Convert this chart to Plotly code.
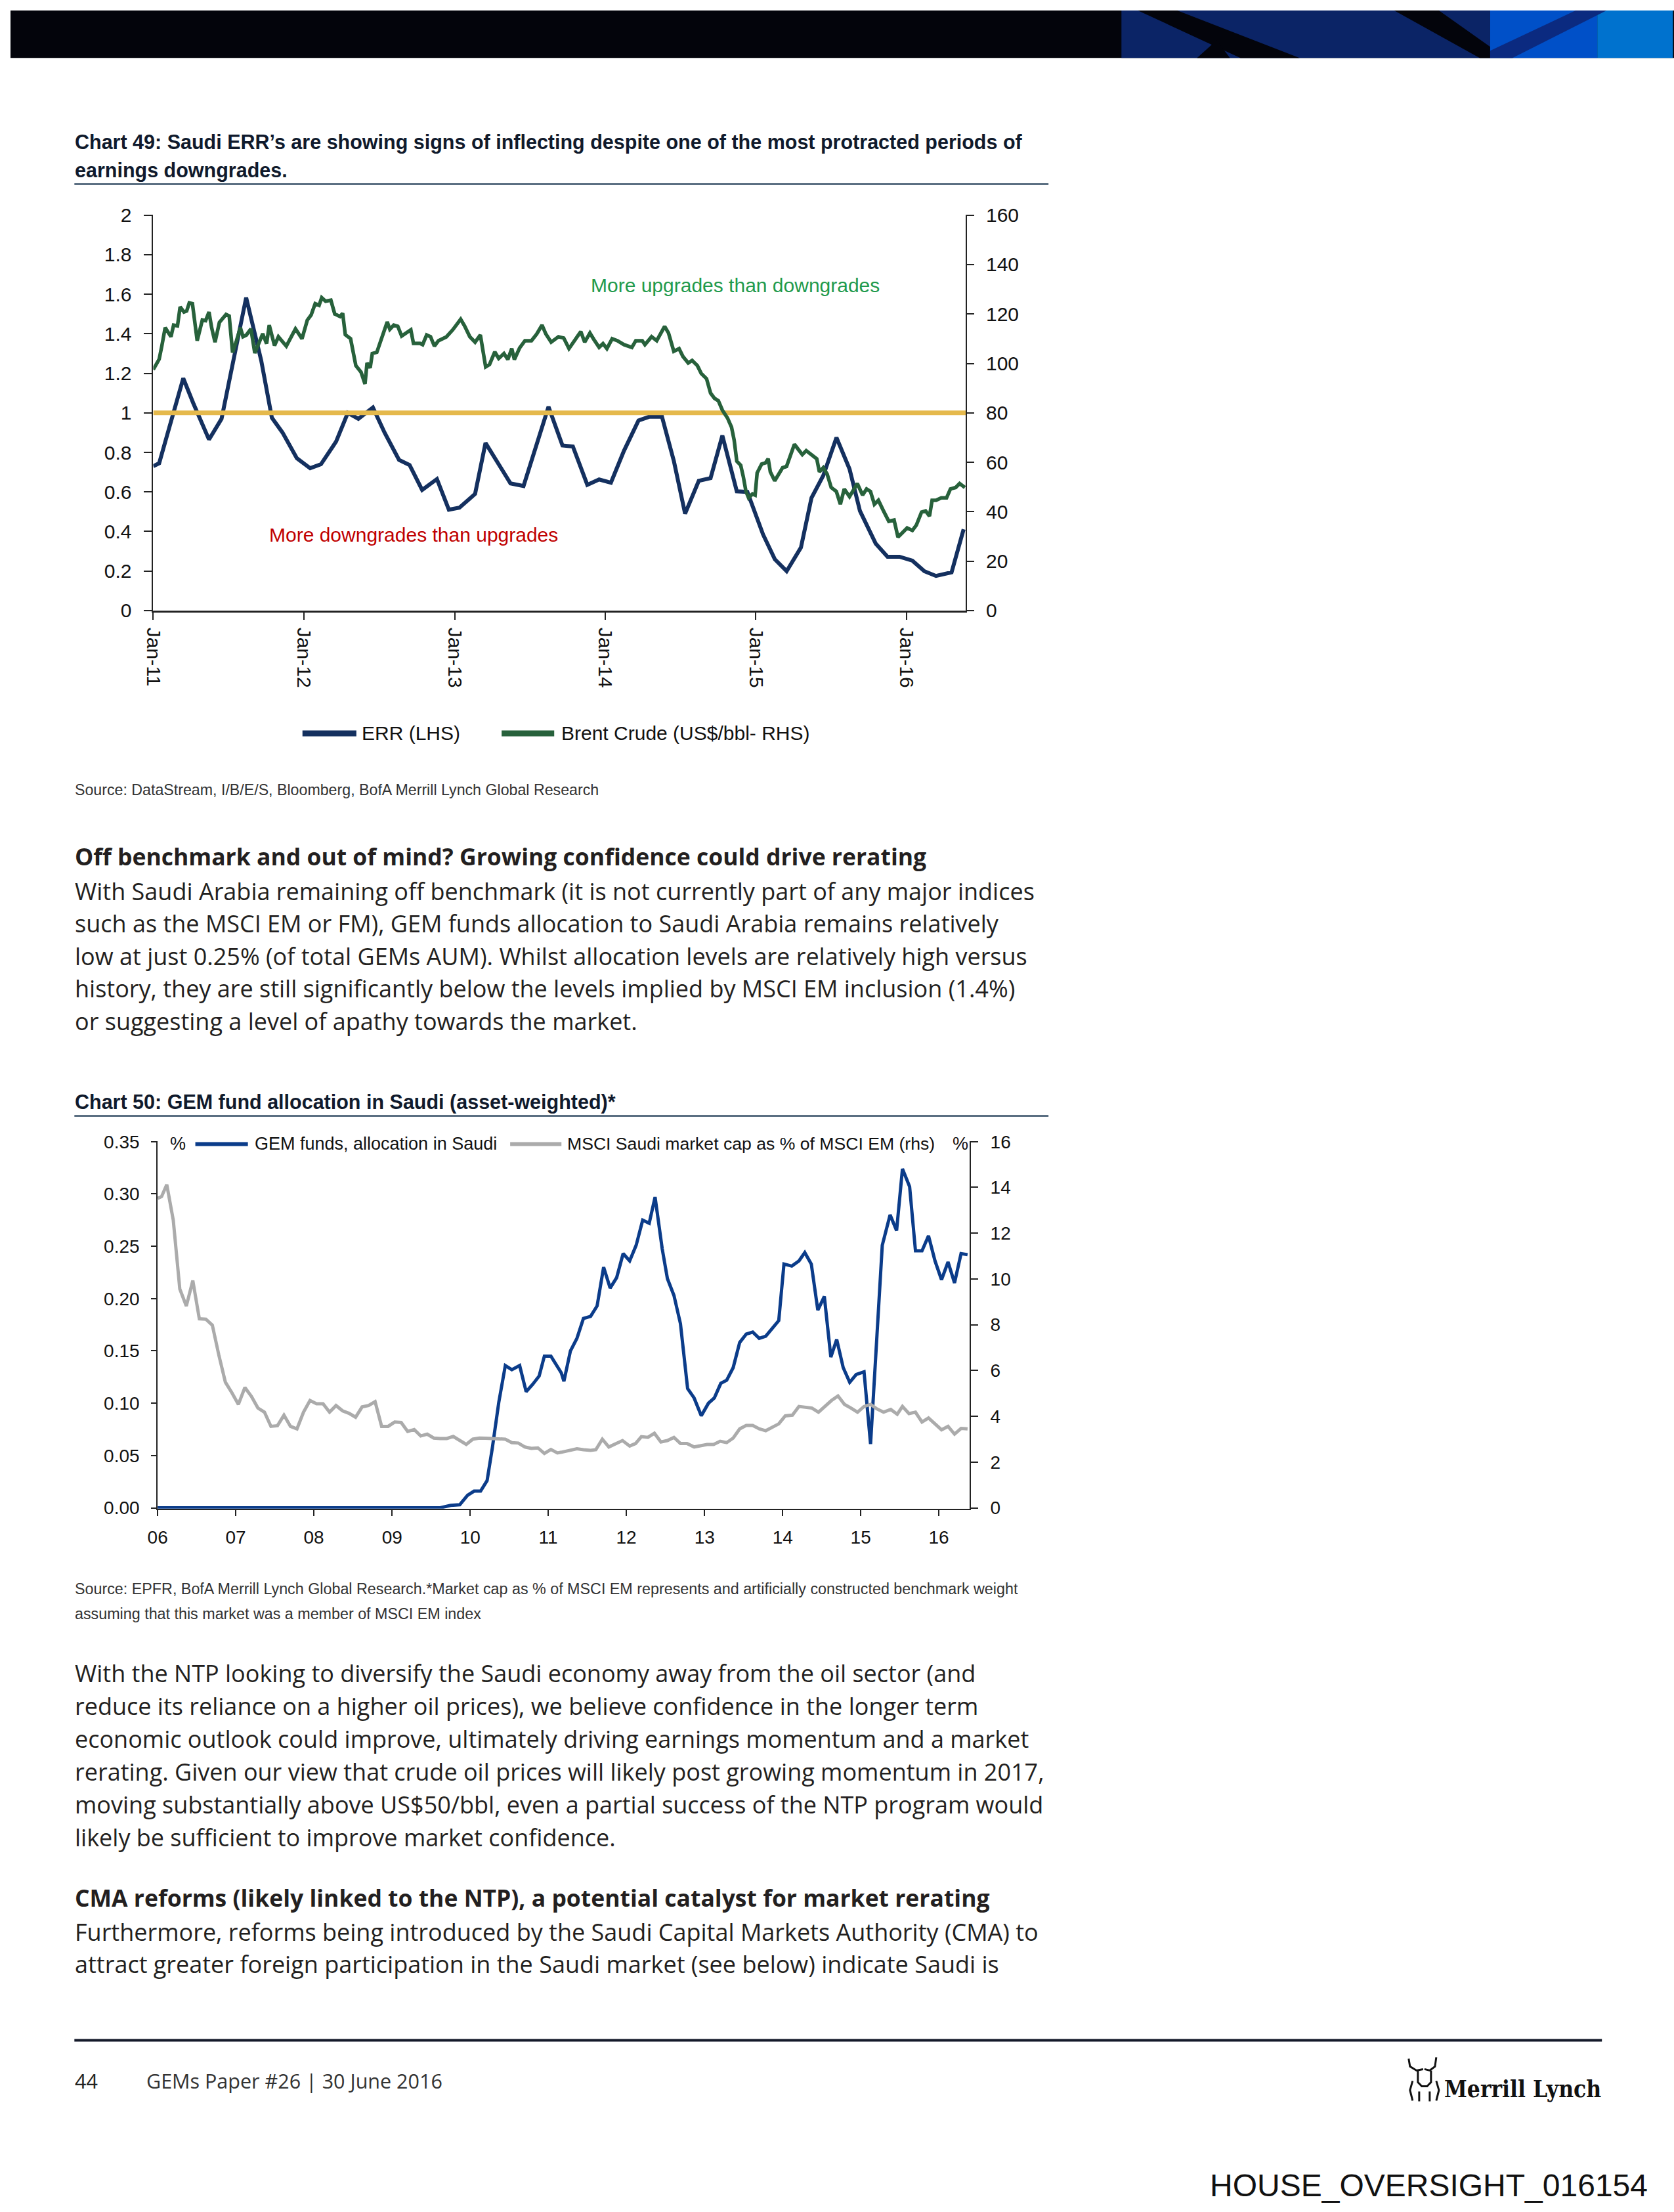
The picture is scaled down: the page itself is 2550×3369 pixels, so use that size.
import plotly.graph_objects as go
import pandas as pd

W, H = 2550, 3369

# ---------------- Chart 49 data ----------------
err_start = "2011-01-01"
err_months = [0.0, 0.47, 2.39, 3.18, 4.44, 5.44, 7.4, 8.6, 9.45, 10.3,
              11.44, 12.5, 13.36, 14.57, 15.5, 16.34, 17.5, 18.43, 19.58, 20.42,
              21.42, 22.6, 23.55, 24.39, 25.64, 26.47, 28.46, 29.5, 31.49, 32.28,
              32.6, 33.43, 34.58, 35.52, 36.46, 37.5, 38.66, 39.5, 40.53, 41.48,
              42.37, 43.46, 44.4, 45.34, 46.49, 47.33, 48.58, 49.52, 50.46, 51.6,
              52.44, 53.38, 54.43, 55.47, 56.3, 57.56, 58.5, 59.45, 60.48, 61.43,
              62.36, 63.6, 64.56]
err_values = [0.73, 0.745, 1.175, 1.05, 0.865, 0.97, 1.583, 1.265, 0.975, 0.90,
              0.77, 0.72, 0.74, 0.855, 1.0, 0.97, 1.027, 0.90, 0.762, 0.736,
              0.61, 0.665, 0.51, 0.52, 0.59, 0.848, 0.643, 0.63, 1.031, 0.90,
              0.835, 0.83, 0.636, 0.663, 0.647, 0.808, 0.961, 0.98, 0.98, 0.755,
              0.49, 0.656, 0.67, 0.885, 0.603, 0.60, 0.385, 0.259, 0.199, 0.319,
              0.57, 0.683, 0.875, 0.716, 0.504, 0.338, 0.272, 0.272, 0.252, 0.199,
              0.175, 0.193, 0.411]

brent_months = [0, 0.47, 0.68, 0.95, 1.41, 1.62, 1.93, 2.14, 2.45, 2.66,
                2.87, 3.12, 3.50, 3.91, 4.17, 4.44, 4.65, 4.92, 5.27, 5.80,
                6.05, 6.32, 6.63, 6.94, 7.15, 7.42, 7.78, 8.09, 8.72, 9.03,
                9.24, 9.66, 9.97, 10.6, 11.33, 11.85, 12.27, 12.58, 12.9, 13.21,
                13.42, 13.73, 14.15, 14.46, 14.88, 15.09, 15.3, 15.72, 16.14, 16.55,
                16.87, 17.03, 17.28, 17.45, 17.81, 18.22, 18.64, 18.85, 19.16, 19.48,
                19.79, 20.52, 20.73, 21.25, 21.46, 21.78, 22.09, 22.40, 22.72, 23.34,
                23.86, 24.49, 24.80, 25.22, 25.64, 26.06, 26.48, 26.79, 27.21, 27.52,
                27.94, 28.25, 28.56, 28.77, 29.19, 29.61, 30.13, 30.55, 30.97, 31.28,
                31.70, 32.28, 32.70, 33.12, 33.53, 34.06, 34.37, 34.79, 35.10, 35.52,
                35.83, 36.14, 36.56, 36.98, 37.50, 38.13, 38.44, 38.96, 39.17, 39.70,
                40.11, 40.43, 40.74, 41.05, 41.47, 41.89, 42.20, 42.62, 42.93, 43.35,
                43.66, 44.08, 44.40, 44.71, 45.02, 45.34, 45.75, 46.07, 46.28, 46.49,
                46.80, 47.01, 47.22, 47.43, 47.74, 47.95, 48.11, 48.47, 48.78, 48.99,
                49.16, 49.51, 49.83, 50.14, 50.45, 50.77, 51.08, 51.39, 51.71, 52.02,
                52.44, 52.86, 53.07, 53.38, 53.69, 54.01, 54.42, 54.74, 55.05, 55.47,
                56.09, 56.51, 56.83, 57.14, 57.45, 57.77, 58.18, 58.60, 59.02, 59.33,
                59.65, 60.06, 60.48, 60.79, 61.21, 61.53, 61.84, 62.05, 62.36, 62.78,
                63.20, 63.51, 63.93, 64.24, 64.66]
brent_values = [97.5, 101.7, 107, 114.5, 110.8, 115.5, 115.2, 122.9, 120.8, 121.2,
                124.5, 124.2, 109.2, 117.6, 117.3, 120.8, 114.5, 108.6, 116.6, 119.8,
                119.2, 104.4, 109.2, 114.5, 110.8, 111.5, 114, 104.2, 112, 108,
                115.5, 107.2, 110.8, 107, 114, 110, 117.5, 119.6, 124.2, 123.5,
                126.6, 125.2, 125.6, 120, 119, 120.3, 111.6, 110, 99.1, 96.5,
                91.7, 100.2, 98.2, 104, 104.5, 111.1, 116.8, 113.8, 115.5, 115,
                111.1, 113.6, 108.1, 108.1, 107.6, 111.5, 110.8, 107, 109.2, 110.7,
                113.6, 117.9, 115.2, 110.8, 108.6, 111.5, 98.6, 99.6, 104.7, 102,
                104, 101.6, 106, 101.6, 106.3, 109.2, 109.2, 111.9, 115.5, 111.9,
                108.6, 110.8, 110.3, 106, 109.2, 112.9, 108.6, 112.3, 109.7, 106.5,
                108, 106, 110, 109.2, 107.6, 106.5, 109.2, 109.2, 107.6, 110.8,
                109.2, 111.9, 115, 112.3, 104.9, 106, 102.8, 100.2, 101.2, 99.1,
                95.9, 93.8, 88, 85.9, 84.9, 81.1, 77.9, 74.2, 68.9, 60.4,
                58.8, 54.1, 48.2, 45.6, 47.2, 46.7, 55.7, 59.3, 59.8, 61.4,
                56.1, 52.5, 55.2, 57.8, 58.3, 62.6, 67.3, 65.2, 63.1, 64.7,
                63.1, 61.4, 56.1, 57.8, 55.2, 49.8, 48.2, 43, 49.2, 46.1,
                51.4, 46.7, 49.2, 48.2, 43, 44.6, 40.3, 36.1, 36.6, 29.7,
                31.3, 33.4, 32.4, 34.5, 39.8, 40.3, 38.2, 44.6, 44.6, 45.6,
                45.6, 49.2, 49.8, 51.4, 49.8]

parity_level = 1.0
c49_end = "2016-05-24"
c49_tickvals = ["2011-01-01", "2012-01-01", "2013-01-01", "2014-01-01", "2015-01-01", "2016-01-01"]
c49_ticktext = ["Jan-11", "Jan-12", "Jan-13", "Jan-14", "Jan-15", "Jan-16"]

# ---------------- Chart 50 data ----------------
c50_start = "2006-01-01"
gem_months = [0, 43.4, 45.0, 46.4, 47.6, 48.6, 49.6, 50.6, 51.4, 52.4,
              53.4, 54.4, 55.6, 56.6, 57.6, 58.6, 59.4, 60.4, 62.0, 62.4,
              63.4, 64.4, 65.4, 66.5, 67.5, 68.5, 69.5, 70.5, 71.5, 72.5,
              73.5, 74.5, 75.5, 76.4, 77.5, 78.3, 79.3, 80.3, 81.4, 82.4,
              83.5, 84.6, 85.5, 86.5, 87.4, 88.4, 89.4, 90.4, 91.4, 92.4,
              93.4, 94.4, 95.4, 96.2, 97.4, 98.5, 99.4, 100.4, 101.4, 102.4,
              103.4, 104.3, 105.3, 106.3, 107.3, 108.5, 109.5, 111.3, 112.5, 113.5,
              114.4, 115.5, 116.4, 117.4, 118.4, 119.4, 120.4, 121.4, 122.4, 123.4,
              124.4]
gem_values = [0, 0, 0.0024, 0.003, 0.012, 0.016, 0.016, 0.026, 0.057, 0.101,
              0.136, 0.132, 0.136, 0.111, 0.118, 0.126, 0.145, 0.145, 0.129, 0.121,
              0.150, 0.162, 0.181, 0.183, 0.193, 0.230, 0.210, 0.220, 0.243, 0.236,
              0.251, 0.275, 0.272, 0.297, 0.2475, 0.219, 0.203, 0.176, 0.114, 0.105,
              0.088, 0.100, 0.105, 0.119, 0.122, 0.134, 0.158, 0.166, 0.168, 0.162,
              0.164, 0.172, 0.179, 0.233, 0.231, 0.236, 0.244, 0.233, 0.189, 0.202,
              0.144, 0.161, 0.134, 0.120, 0.1275, 0.130, 0.061, 0.251, 0.280, 0.265,
              0.324, 0.307, 0.2456, 0.2456, 0.260, 0.236, 0.218, 0.235, 0.215, 0.243,
              0.242]

msci_months = [0, 0.6, 1.4, 2.4, 3.4, 4.4, 5.4, 6.4, 7.4, 8.4,
               9.4, 10.4, 11.4, 12.4, 13.4, 14.4, 15.4, 16.4, 17.4, 18.4,
               19.4, 20.4, 21.4, 22.4, 23.4, 24.4, 25.4, 26.4, 27.4, 28.4,
               29.4, 30.4, 31.4, 32.4, 33.4, 34.4, 35.4, 36.4, 37.4, 38.4,
               39.4, 40.4, 41.4, 42.4, 43.4, 44.4, 45.4, 46.4, 47.4, 48.4,
               49.4, 50.4, 51.4, 52.4, 53.4, 54.4, 55.4, 56.4, 57.4, 58.4,
               59.4, 60.4, 61.4, 62.0, 63.2, 64.4, 65.4, 66.5, 67.3, 68.3,
               69.3, 70.3, 71.4, 72.5, 73.4, 74.3, 75.3, 76.3, 77.3, 78.3,
               79.3, 80.3, 81.3, 82.4, 83.4, 84.4, 85.4, 86.4, 87.4, 88.4,
               89.4, 90.4, 91.4, 92.4, 93.4, 94.4, 95.4, 96.4, 97.5, 98.5,
               99.5, 100.5, 101.5, 102.5, 103.5, 104.5, 105.5, 106.5, 107.5, 108.5,
               109.5, 110.5, 111.5, 112.6, 113.6, 114.4, 115.4, 116.4, 117.4, 118.4,
               119.4, 120.4, 121.4, 122.4, 123.4, 124.4]
msci_values = [13.52, 13.6, 14.12, 12.56, 9.56, 8.82, 9.93, 8.26, 8.24, 7.98,
               6.67, 5.49, 5.03, 4.52, 5.26, 4.87, 4.36, 4.18, 3.56, 3.59,
               4.05, 3.56, 3.45, 4.18, 4.69, 4.55, 4.55, 4.18, 4.47, 4.24,
               4.13, 3.96, 4.41, 4.47, 4.64, 3.56, 3.56, 3.75, 3.73, 3.34,
               3.42, 3.14, 3.22, 3.05, 3.03, 3.03, 3.12, 2.94, 2.77, 3.0,
               3.05, 3.04, 3.03, 3.03, 3.0, 2.85, 2.83, 2.66, 2.6, 2.62,
               2.38, 2.55, 2.4, 2.43, 2.49, 2.58, 2.54, 2.51, 2.54, 3.0,
               2.66, 2.81, 2.94, 2.70, 2.81, 3.11, 3.08, 3.26, 2.88, 2.94,
               3.08, 2.81, 2.81, 2.66, 2.72, 2.77, 2.77, 2.91, 2.85, 3.05,
               3.45, 3.60, 3.60, 3.45, 3.37, 3.53, 3.67, 4.02, 4.05, 4.43,
               4.41, 4.36, 4.18, 4.43, 4.69, 4.89, 4.52, 4.36, 4.18, 4.43,
               4.52, 4.32, 4.18, 4.30, 4.09, 4.43, 4.12, 4.18, 3.75, 3.93,
               3.67, 3.41, 3.56, 3.22, 3.47, 3.45]

c50_end = "2016-05-24"
c50_tickvals = ["2006-01-01", "2007-01-01", "2008-01-01", "2009-01-01", "2010-01-01", "2011-01-01",
                "2012-01-01", "2013-01-01", "2014-01-01", "2015-01-01", "2016-01-01"]
c50_ticktext = ["06", "07", "08", "09", "10", "11", "12", "13", "14", "15", "16"]

assert len(err_months) == len(err_values)
assert len(brent_months) == len(brent_values)
assert len(gem_months) == len(gem_values)
assert len(msci_months) == len(msci_values)


def to_dates(start, months):
    s = pd.Timestamp(start)
    return [s + pd.Timedelta(days=m * 30.4375) for m in months]


# page-pixel -> paper coordinates (with a small correction for the capture framing)
OX, OY, SX, SY = 16.8, 16.8, 0.9925, 0.9898


def px(x):
    return ((x - OX) / SX) / W


def py(y):
    return 1 - ((y - OY) / SY) / H


NAVY = "#14305f"
GREEN = "#27613b"
GOLD = "#e5b94c"
BLUE50 = "#0b3c8a"
GREY50 = "#ababab"
TICKF = "Liberation Sans, Arial, sans-serif"
NARROW = "Liberation Sans Narrow, Arial Narrow, Liberation Sans, sans-serif"
BODY = "Open Sans, Noto Sans, sans-serif"

fig = go.Figure()

# Chart 49 traces
err_x = to_dates(err_start, err_months)
fig.add_trace(go.Scatter(x=err_x, y=err_values, mode="lines", line=dict(color=NAVY, width=6),
                         xaxis="x", yaxis="y", showlegend=False))
fig.add_trace(go.Scatter(x=[err_start, c49_end], y=[parity_level, parity_level], mode="lines",
                         line=dict(color=GOLD, width=7), xaxis="x", yaxis="y", showlegend=False))
fig.add_trace(go.Scatter(x=to_dates(err_start, brent_months), y=brent_values, mode="lines",
                         line=dict(color=GREEN, width=5.5), xaxis="x", yaxis="y2", showlegend=False))

# Chart 50 traces
fig.add_trace(go.Scatter(x=to_dates(c50_start, msci_months), y=msci_values, mode="lines",
                         line=dict(color=GREY50, width=5), xaxis="x2", yaxis="y4", showlegend=False))
fig.add_trace(go.Scatter(x=to_dates(c50_start, gem_months), y=gem_values, mode="lines",
                         line=dict(color=BLUE50, width=5), xaxis="x2", yaxis="y3", showlegend=False))

axis_common = dict(showgrid=False, zeroline=False, showline=True, ticks="outside", fixedrange=True)

lo50, hi50 = -0.0008, 0.3502
fig.update_layout(
    width=W, height=H, autosize=False,
    margin=dict(l=0, r=0, t=0, b=0),
    paper_bgcolor="white", plot_bgcolor="white",
    xaxis=dict(domain=[px(234), px(1470)], anchor="y", type="date",
               range=[err_start, c49_end], tickmode="array", tickvals=c49_tickvals, ticktext=c49_ticktext,
               tickangle=90, ticklen=11, tickwidth=2, tickcolor="#222", linecolor="#222", linewidth=3,
               tickfont=dict(family=TICKF, size=30, color="#111"), ticklabelstandoff=6, **axis_common),
    yaxis=dict(domain=[py(930), py(328)], anchor="x", range=[0, 2.001], dtick=0.2, tick0=0,
               ticklen=12, tickwidth=2, tickcolor="#222", linecolor="#222", linewidth=2,
               tickfont=dict(family=TICKF, size=30, color="#111"), ticklabelstandoff=13, **axis_common),
    yaxis2=dict(overlaying="y", side="right", anchor="x", range=[0, 160.08], dtick=20, tick0=0,
                ticklen=11, tickwidth=2, tickcolor="#222", linecolor="#222", linewidth=2,
                tickfont=dict(family=TICKF, size=30, color="#111"), ticklabelstandoff=12, **axis_common),
    xaxis2=dict(domain=[px(240.7), px(1476)], anchor="y3", type="date",
                range=[c50_start, c50_end], tickmode="array", tickvals=c50_tickvals, ticktext=c50_ticktext,
                tickangle=0, ticklen=9, tickwidth=2, tickcolor="#222", linecolor="#222", linewidth=2,
                layer="below traces",
                tickfont=dict(family=TICKF, size=28, color="#111"), ticklabelstandoff=9, **axis_common),
    yaxis3=dict(domain=[py(2297), py(1738)], anchor="x2", range=[lo50, hi50], dtick=0.05, tick0=0,
                tickformat=".2f", ticklen=8, tickwidth=2, tickcolor="#222", linecolor="#222", linewidth=2,
                tickfont=dict(family=TICKF, size=28, color="#111"), ticklabelstandoff=12, **axis_common),
    yaxis4=dict(overlaying="y3", side="right", anchor="x2", range=[lo50 * 16 / 0.35, hi50 * 16 / 0.35],
                dtick=2, tick0=0, ticklen=11, tickwidth=2, tickcolor="#222", linecolor="#222", linewidth=2,
                tickfont=dict(family=TICKF, size=28, color="#111"), ticklabelstandoff=13, **axis_common),
)

shapes = []


def hline(x0, x1, y, color, width):
    shapes.append(dict(type="line", xref="paper", yref="paper", x0=px(x0), x1=px(x1), y0=py(y), y1=py(y),
                       line=dict(color=color, width=width)))


def rect(x0, y0, x1, y1, color):
    shapes.append(dict(type="rect", xref="paper", yref="paper", x0=max(0, px(x0)), x1=min(1, px(x1)),
                       y0=py(y1), y1=min(1, py(y0)), fillcolor=color, line=dict(width=0)))


def poly(points, color):
    path = "M " + " L ".join(f"{px(a):.5f},{min(1, py(b)):.5f}" for a, b in points) + " Z"
    shapes.append(dict(type="path", xref="paper", yref="paper", path=path, fillcolor=color, line=dict(width=0)))


def stroke(points, color, width):
    path = "M " + " L ".join(f"{px(a):.5f},{py(b):.5f}" for a, b in points)
    shapes.append(dict(type="path", xref="paper", yref="paper", path=path, line=dict(color=color, width=width)))


# header band
rect(0, 0, W + 40, 89, "#03040b")
rect(1707, 0, 2268, 89, "#0b2466")
poly([(1732, 0), (1792, 0), (1978, 89), (1888, 89)], "#03040b")
poly([(1852, 62), (1872, 89), (1822, 89)], "#03040b")
poly([(2122, 0), (2190, 0), (2268, 72), (2268, 89), (2252, 89)], "#03040b")
rect(2268, 0, 2431, 89, "#0050c8")
rect(2431, 0, 2546, 89, "#0072ce")
poly([(2398, 0), (2445, 0), (2302, 89), (2268, 89), (2268, 78)], "#0b2a80")

# title rules
hline(114, 1596, 281, "#5b6f82", 3)
hline(114, 1596, 1699, "#5b6f82", 3)
# footer rule
hline(114, 2438, 3106, "#141a2a", 4)

# chart 49 legend samples
shapes.append(dict(type="line", xref="paper", yref="paper", x0=px(461), x1=px(543), y0=py(1117), y1=py(1117),
                   line=dict(color=NAVY, width=9)))
shapes.append(dict(type="line", xref="paper", yref="paper", x0=px(764), x1=px(844), y0=py(1117), y1=py(1117),
                   line=dict(color=GREEN, width=9)))
# chart 50 legend samples
shapes.append(dict(type="line", xref="paper", yref="paper", x0=px(298), x1=px(378), y0=py(1742), y1=py(1742),
                   line=dict(color=BLUE50, width=6)))
shapes.append(dict(type="line", xref="paper", yref="paper", x0=px(777), x1=px(855), y0=py(1742), y1=py(1742),
                   line=dict(color=GREY50, width=6)))

# simple line-art bull next to the Merrill Lynch wordmark
stroke([(2144, 3134), (2146, 3146), (2156, 3152), (2166, 3150)], "#111", 3)
stroke([(2186, 3132), (2184, 3146), (2176, 3152), (2168, 3150)], "#111", 3)
stroke([(2158, 3152), (2158, 3170), (2164, 3176), (2172, 3176), (2178, 3170), (2178, 3152)], "#111", 3)
stroke([(2150, 3168), (2146, 3182), (2150, 3198)], "#111", 3)
stroke([(2186, 3168), (2190, 3182), (2186, 3198)], "#111", 3)
stroke([(2160, 3184), (2160, 3199)], "#111", 3)
stroke([(2176, 3184), (2176, 3199)], "#111", 3)

fig.update_layout(shapes=shapes)


def text(x, y, s, size, color, family, anchor="left"):
    fig.add_annotation(x=px(x), y=py(y), xref="paper", yref="paper", text=s, showarrow=False,
                       xanchor=anchor, yanchor="middle", font=dict(size=size, color=color, family=family),
                       borderpad=0)


TITLE_C = "#101a2c"
BODY_C = "#231f20"

# Chart 49
text(114, 217, "<b>Chart 49: Saudi ERR’s are showing signs of inflecting despite one of the most protracted periods of</b>",
     30.5, TITLE_C, NARROW)
text(114, 260, "<b>earnings downgrades.</b>", 30.5, TITLE_C, NARROW)
text(899, 435, "More upgrades than downgrades", 30, "#1f9a4c", TICKF)
text(409, 815, "More downgrades than upgrades", 30, "#c00000", TICKF)
text(550, 1117, "ERR (LHS)", 30, "#111", TICKF)
text(854, 1117, "Brent Crude (US$/bbl- RHS)", 30, "#111", TICKF)
text(114, 1203, "Source: DataStream, I/B/E/S, Bloomberg, BofA Merrill Lynch Global Research", 23.2, "#333", NARROW)

# Body 1
text(114, 1304, "<b>Off benchmark and out of mind? Growing confidence could drive rerating</b>", 35.5, BODY_C, BODY)
body1 = [
    "With Saudi Arabia remaining off benchmark (it is not currently part of any major indices",
    "such as the MSCI EM or FM), GEM funds allocation to Saudi Arabia remains relatively",
    "low at just 0.25% (of total GEMs AUM). Whilst allocation levels are relatively high versus",
    "history, they are still significantly below the levels implied by MSCI EM inclusion (1.4%)",
    "or suggesting a level of apathy towards the market.",
]
for i, line in enumerate(body1):
    text(114, 1357 + i * 49.5, line, 36, BODY_C, BODY)

# Chart 50
text(114, 1678, "<b>Chart 50: GEM fund allocation in Saudi (asset-weighted)*</b>", 30.5, TITLE_C, NARROW)
text(259, 1742, "%", 27, "#111", TICKF)
text(387, 1742, "GEM funds, allocation in Saudi", 27, "#111", TICKF)
text(863, 1742, "MSCI Saudi market cap as % of MSCI EM (rhs)", 26.6, "#111", TICKF)
text(1449, 1742, "%", 27, "#111", TICKF)
text(114, 2419, "Source: EPFR, BofA Merrill Lynch Global Research.*Market cap as % of MSCI EM represents and artificially constructed benchmark weight",
     23.3, "#333", NARROW)
text(114, 2457, "assuming that this market was a member of MSCI EM index", 23.3, "#333", NARROW)

body2 = [
    "With the NTP looking to diversify the Saudi economy away from the oil sector (and",
    "reduce its reliance on a higher oil prices), we believe confidence in the longer term",
    "economic outlook could improve, ultimately driving earnings momentum and a market",
    "rerating. Given our view that crude oil prices will likely post growing momentum in 2017,",
    "moving substantially above US$50/bbl, even a partial success of the NTP program would",
    "likely be sufficient to improve market confidence.",
]
for i, line in enumerate(body2):
    text(114, 2548 + i * 49.8, line, 36, BODY_C, BODY)

text(114, 2889, "<b>CMA reforms (likely linked to the NTP), a potential catalyst for market rerating</b>", 35.5, BODY_C, BODY)
body3 = [
    "Furthermore, reforms being introduced by the Saudi Capital Markets Authority (CMA) to",
    "attract greater foreign participation in the Saudi market (see below) indicate Saudi is",
]
for i, line in enumerate(body3):
    text(114, 2941 + i * 49.5, line, 36, BODY_C, BODY)

# footer
text(114, 3168, "44", 30.5, "#222", BODY)
text(223, 3168, "GEMs Paper #26 | 30 June 2016", 30.5, "#333", BODY)
text(2438, 3180, "<b>Merrill Lynch</b>", 35, "#111", "DejaVu Serif Condensed, DejaVu Serif, serif", anchor="right")
text(2509, 3327, "HOUSE_OVERSIGHT_016154", 48, "#111", TICKF, anchor="right")

fig.write_html("out.html", config={"displayModeBar": False},
               post_script="document.body.style.margin='0';document.body.style.padding='0';"
                           "document.documentElement.style.overflow='hidden';")
